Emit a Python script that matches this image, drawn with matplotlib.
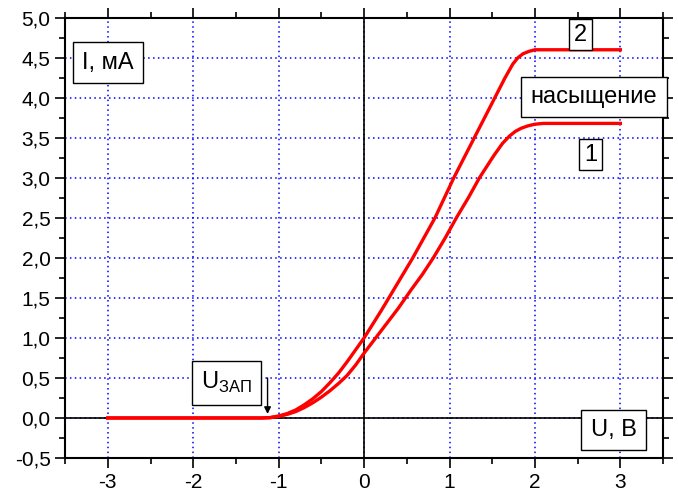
import matplotlib
matplotlib.use('Agg')
import matplotlib.pyplot as plt
from matplotlib.ticker import MultipleLocator, FuncFormatter

plt.rcParams['font.family'] = ['Liberation Sans', 'DejaVu Sans']
plt.rcParams['mathtext.fontset'] = 'custom'
plt.rcParams['mathtext.rm'] = 'Liberation Sans'

# curve 1 (lower, saturation ~3.68 mA)
u1 = [-3.0, -2.0, -1.2, -1.1, -1.0, -0.9, -0.8, -0.7, -0.6, -0.5, -0.4, -0.3,
      -0.2, -0.1, 0.0, 0.1, 0.25, 0.4, 0.55, 0.68, 0.81, 0.95, 1.08, 1.22, 1.35,
      1.52, 1.62, 1.7, 1.77, 1.84, 1.92, 2.0, 2.1, 3.0]
i1 = [0.0, 0.0, 0.0, 0.004, 0.02, 0.045, 0.08, 0.13, 0.19, 0.26, 0.34, 0.43,
      0.53, 0.66, 0.81, 0.95, 1.16, 1.37, 1.6, 1.79, 2.0, 2.25, 2.5, 2.75, 3.0,
      3.28, 3.43, 3.52, 3.58, 3.62, 3.65, 3.67, 3.68, 3.68]

# curve 2 (upper, saturation ~4.6 mA)
u2 = [-3.0, -2.0, -1.2, -1.1, -1.0, -0.9, -0.8, -0.7, -0.6, -0.5, -0.4, -0.3,
      -0.2, -0.1, 0.0, 0.1, 0.2, 0.29, 0.43, 0.57, 0.7, 0.83, 0.94, 1.05,
      1.17, 1.29, 1.41, 1.53, 1.65, 1.74, 1.8, 1.86, 1.93, 2.0, 2.1, 3.0]
i2 = [0.0, 0.0, 0.0, 0.005, 0.025, 0.055, 0.1, 0.165, 0.24, 0.33, 0.44, 0.56,
      0.7, 0.85, 1.0, 1.17, 1.34, 1.5, 1.75, 2.0, 2.25, 2.5, 2.75, 3.0,
      3.25, 3.5, 3.75, 4.0, 4.25, 4.42, 4.5, 4.55, 4.58, 4.6, 4.6, 4.6]

fig = plt.figure(figsize=(6.78, 4.93), dpi=100)
ax = fig.add_axes([0.096, 0.071, 0.882, 0.893])

ax.set_xlim(-3.5, 3.5)
ax.set_ylim(-0.5, 5.0)

ax.xaxis.set_major_locator(MultipleLocator(1))
ax.xaxis.set_minor_locator(MultipleLocator(0.5))
ax.yaxis.set_major_locator(MultipleLocator(0.5))
ax.yaxis.set_minor_locator(MultipleLocator(0.25))
ax.xaxis.set_major_formatter(FuncFormatter(lambda v, p: '%d' % round(v)))
ax.yaxis.set_major_formatter(FuncFormatter(lambda v, p: ('%.1f' % v).replace('.', ',')))

ax.tick_params(which='both', direction='out', top=True, right=True,
               labeltop=False, labelright=False, width=1.2, labelsize=15)
ax.tick_params(which='major', length=7)
ax.tick_params(which='minor', length=4)
for s in ax.spines.values():
    s.set_linewidth(1.5)

ax.grid(True, which='major', color='#0000ff', linestyle=(0, (1, 2.2)), linewidth=1.1)
ax.axhline(0, color='black', lw=1.2, zorder=2)
ax.axvline(0, color='black', lw=1.2, zorder=2)

ax.plot(u1, i1, color='#ff0000', lw=2.4, zorder=3, solid_joinstyle='round')
ax.plot(u2, i2, color='#ff0000', lw=2.4, zorder=3, solid_joinstyle='round')

box = dict(boxstyle='square,pad=0.4', facecolor='white', edgecolor='black', linewidth=1.0)
box_s = dict(boxstyle='square,pad=0.2', facecolor='white', edgecolor='black', linewidth=1.0)
kw = dict(ha='center', va='center', fontsize=17, zorder=5)

ax.text(-3.0, 4.44, 'I, мА', bbox=box, **kw)
ax.text(2.53, 4.79, '2', bbox=box_s, **kw)
ax.text(2.69, 4.01, 'насыщение', bbox=box, **kw)
ax.text(2.65, 3.29, '1', bbox=box_s, **kw)
ax.text(2.92, -0.15, 'U, В', bbox=box, **kw)
ax.text(-1.61, 0.44, r'U$_{\mathrm{ЗАП}}$', bbox=box, **kw)

ax.annotate('', xy=(-1.13, 0.05), xytext=(-1.13, 0.5),
            arrowprops=dict(arrowstyle='-|>', color='black', lw=1.0,
                            mutation_scale=10, shrinkA=0, shrinkB=0))

fig.savefig('out.png', dpi=100)
